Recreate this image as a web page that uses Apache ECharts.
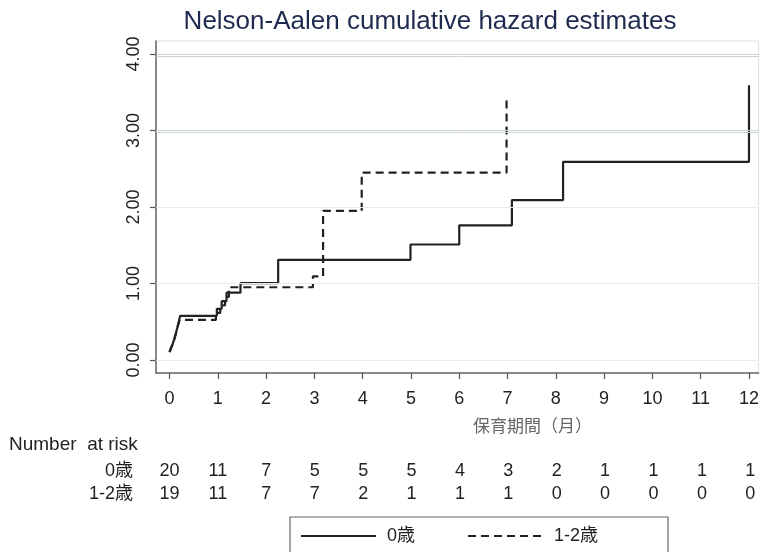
<!DOCTYPE html>
<html><head><meta charset="utf-8">
<script src="https://cdn.jsdelivr.net/npm/echarts@6/dist/echarts.min.js"></script>
<style>html,body{margin:0;padding:0;background:#fff}#c{width:762px;height:552px}</style>
</head><body><div id="c"></div>
<script>
const titleText = 'Nelson-Aalen cumulative hazard estimates';
const xAxisTitle = '保育期間（月）';
const riskTitle = 'Number  at risk';
const xTicks = [0,1,2,3,4,5,6,7,8,9,10,11,12];
const yTicks = [0,1,2,3,4];
const groupNames = ['0歳','1-2歳'];
// 0歳 cumulative hazard steps
const g0Time   = [0, 0.03, 0.07, 0.10, 0.13, 0.16, 0.19, 0.22, 0.98, 1.08, 1.18, 1.47, 2.25, 4.99, 6.00, 7.09, 8.15, 12.0];
const g0Hazard = [0.103, 0.158, 0.217, 0.28, 0.346, 0.418, 0.495, 0.578, 0.669, 0.769, 0.880, 1.005, 1.31, 1.51, 1.76, 2.09, 2.59, 3.59];
// 1-2歳 cumulative hazard steps
const g1Time   = [0, 0.04, 0.08, 0.11, 0.14, 0.17, 0.21, 0.96, 1.05, 1.15, 1.23, 2.97, 3.18, 3.98, 6.98];
const g1Hazard = [0.105, 0.164, 0.226, 0.293, 0.364, 0.441, 0.524, 0.615, 0.715, 0.826, 0.951, 1.094, 1.95, 2.45, 3.45];
// number at risk
const risk0 = [20,11,7,5,5,5,4,3,2,1,1,1,1];
const risk1 = [19,11,7,7,2,1,1,1,0,0,0,0,0];

const FONT = 'Liberation Sans, Arial, Noto Sans CJK JP, sans-serif';
const zip = (a,b) => a.map((v,i)=>[v,b[i]]);
const riskData = [];
xTicks.forEach((t,i)=>{ riskData.push([t,0,risk0[i]]); riskData.push([t,1,risk1[i]]); });

const gridLine = v => {
  const strong = v >= 3;
  return { yAxis: v, lineStyle: strong
    ? { color:'#c9d3d8', width:1, type:'solid', shadowColor:'#c9d3d8', shadowOffsetY:2, shadowBlur:0 }
    : { color:'#e8ecee', width:1, type:'solid' } };
};

const chart = echarts.init(document.getElementById('c'), null, {renderer:'canvas'});
chart.setOption({
  animation: false,
  backgroundColor: '#fff',
  textStyle: { fontFamily: FONT },
  title: { text: titleText, left: 430, top: 9, padding: 0, textAlign: 'center',
    textStyle: { fontFamily: FONT, fontSize: 26, fontWeight: 'normal', color: '#1e2b4e' } },
  grid: [
    { left: 156, right: 2, top: 41, bottom: 179, show: true, borderColor: '#dde3e6', borderWidth: 1, containLabel: false },
    { left: 156, right: 2, top: 460, height: 46, containLabel: false }
  ],
  xAxis: [
    { type: 'value', gridIndex: 0, min: -0.28, max: 12.2,
      axisLine: { show: true, onZero: false, lineStyle: { color: '#666', width: 1.5 } },
      axisTick: { show: true, length: 6, customValues: xTicks, lineStyle: { color: '#555', width: 1.2 } },
      axisLabel: { show: true, customValues: xTicks, margin: 17, fontSize: 18, color: '#222', fontFamily: FONT },
      splitLine: { show: false } },
    { type: 'value', gridIndex: 1, min: -0.28, max: 12.2, show: false }
  ],
  yAxis: [
    { type: 'value', gridIndex: 0, min: -0.17, max: 4.17,
      axisLine: { show: true, onZero: false, lineStyle: { color: '#666', width: 1.5 } },
      axisTick: { show: true, length: 6, customValues: yTicks, lineStyle: { color: '#555', width: 1.2 } },
      axisLabel: { show: true, customValues: yTicks, rotate: 90, margin: 13, fontSize: 18, color: '#222', fontFamily: FONT,
        formatter: v => Number(v).toFixed(2) },
      splitLine: { show: false } },
    { type: 'category', gridIndex: 1, data: groupNames, inverse: true,
      axisLine: { show: false }, axisTick: { show: false }, splitLine: { show: false },
      axisLabel: { interval: 0, margin: 23, fontSize: 18, color: '#222', fontFamily: FONT } }
  ],
  legend: {
    data: groupNames, left: 290, top: 517, orient: 'horizontal',
    padding: [10, 70, 40, 10], itemGap: 52, itemWidth: 75, itemHeight: 20,
    borderColor: '#666', borderWidth: 1.2, backgroundColor: '#fff',
    itemStyle: { opacity: 0 },
    textStyle: { fontSize: 18, color: '#222', fontFamily: FONT, padding: [0,0,0,6] }
  },
  graphic: [
    { type: 'text', left: 9, top: 435, style: { text: riskTitle, font: '19px ' + FONT, fill: '#222' } },
    { type: 'text', left: 473, top: 419, style: { text: xAxisTitle, font: '17px ' + FONT, fill: '#666', textAlign: 'center' } }
  ],
  series: [
    { type: 'line', xAxisIndex: 0, yAxisIndex: 0, data: [], silent: true, z: 1,
      markLine: { silent: true, symbol: 'none', label: { show: false }, data: yTicks.map(gridLine) } },
    { name: groupNames[0], type: 'line', xAxisIndex: 0, yAxisIndex: 0, step: 'end', symbol: 'none', showSymbol: false,
      data: zip(g0Time, g0Hazard), z: 3,
      lineStyle: { color: '#222', width: 2.2, type: 'solid' }, itemStyle: { color: '#222' } },
    { name: groupNames[1], type: 'line', xAxisIndex: 0, yAxisIndex: 0, step: 'end', symbol: 'none', showSymbol: false,
      data: zip(g1Time, g1Hazard), z: 3,
      lineStyle: { color: '#222', width: 2.2, type: [8, 5] }, itemStyle: { color: '#222' } },
    { type: 'scatter', xAxisIndex: 1, yAxisIndex: 1, data: riskData, symbolSize: 1, silent: true,
      itemStyle: { color: 'rgba(0,0,0,0)', opacity: 1 },
      label: { show: true, position: 'inside', formatter: p => String(p.data[2]), fontSize: 18, color: '#222',
        textBorderWidth: 0, opacity: 1, fontFamily: FONT } }
  ]
});
</script></body></html>
